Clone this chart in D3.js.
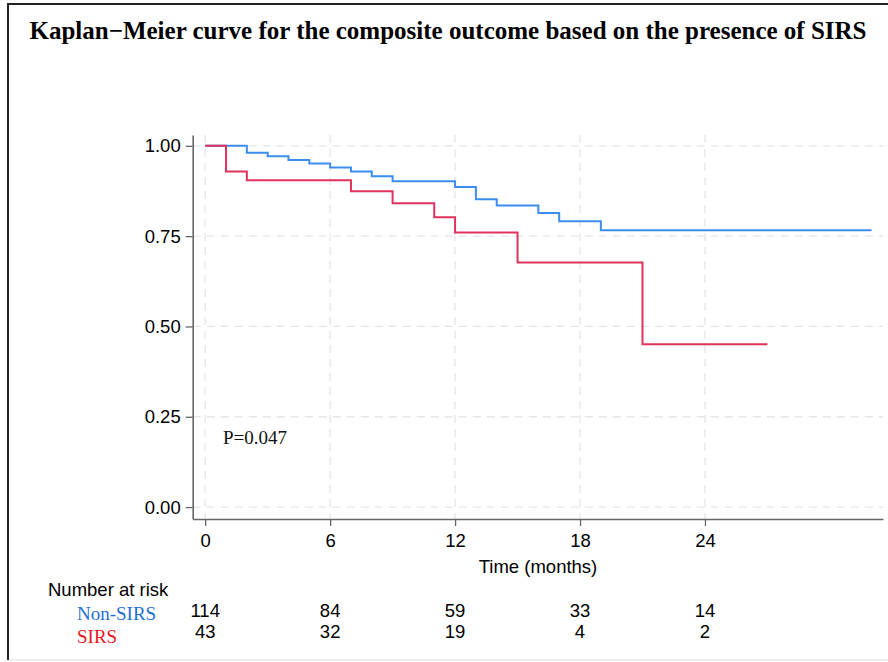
<!DOCTYPE html>
<html>
  <head>
    <meta charset="utf-8" />
    <style>
      body { margin: 0; background: #fff; }
    </style>
  </head>
  <body>

<svg id="graph"></svg>

<script src="https://d3js.org/d3.v7.min.js"></script>
<script>
  const WIDTH = 888;
  const HEIGHT = 662;

  // survival estimates (step points)
  const nonSirsTimes = [0, 2, 3, 4, 5, 6, 7, 8, 9, 12, 13, 14, 16, 17, 19, 32];
  const nonSirsSurv = [1, 0.981, 0.971, 0.961, 0.951, 0.940, 0.929, 0.916, 0.902, 0.886, 0.852, 0.835, 0.814, 0.791, 0.766, 0.766];
  const sirsTimes = [0, 1, 2, 7, 9, 11, 12, 15, 21, 27];
  const sirsSurv = [1, 0.929, 0.905, 0.874, 0.841, 0.802, 0.760, 0.677, 0.451, 0.451];

  const xTicks = [0, 6, 12, 18, 24];
  const yTicks = [0, 0.25, 0.5, 0.75, 1];
  const riskNonSirs = [114, 84, 59, 33, 14];
  const riskSirs = [43, 32, 19, 4, 2];

  const SANS = 'Liberation Sans, Arial, Helvetica, sans-serif';
  const SERIF = 'Liberation Serif, Times New Roman, serif';
  const BLUE = '#3b8def';
  const RED = '#e0325c';

  const svg = d3.select('#graph')
    .attr('width', WIDTH)
    .attr('height', HEIGHT);

  // frame
  svg.append('line').attr('x1', 8).attr('x2', WIDTH).attr('y1', 4).attr('y2', 4)
    .attr('stroke', '#222').attr('stroke-width', 2);
  svg.append('line').attr('x1', 8).attr('x2', 8).attr('y1', 3).attr('y2', 660)
    .attr('stroke', '#222').attr('stroke-width', 2);
  svg.append('line').attr('x1', 9).attr('x2', WIDTH).attr('y1', 660).attr('y2', 660)
    .attr('stroke', '#ddd').attr('stroke-width', 1);

  svg.append('text')
    .attr('x', 448).attr('y', 39)
    .attr('text-anchor', 'middle')
    .style('font-family', SERIF).style('font-weight', 'bold').style('font-size', '25px')
    .text('Kaplan\u2212Meier curve for the composite outcome based on the presence of SIRS');

  const x = d3.scaleLinear().domain([-0.6, 32.55]).range([192.7, 883]);
  const y = d3.scaleLinear().domain([-0.033, 1.03]).range([519, 135]);

  // dashed grid
  const grid = svg.append('g')
    .attr('stroke', '#e6e6e6').attr('stroke-width', 1.3).attr('stroke-dasharray', '8,6');
  grid.selectAll('.vg').data(xTicks).enter().append('line')
    .attr('x1', d => x(d)).attr('x2', d => x(d))
    .attr('y1', y.range()[1]).attr('y2', y.range()[0]);
  grid.selectAll('.hg').data(yTicks).enter().append('line')
    .attr('x1', x.range()[0]).attr('x2', x.range()[1])
    .attr('y1', d => y(d)).attr('y2', d => y(d));

  // axes
  const yAxis = svg.append('g')
    .attr('transform', 'translate(' + x.range()[0] + ',0)')
    .call(d3.axisLeft(y).tickValues(yTicks).tickFormat(d3.format('.2f')).tickSize(7).tickSizeOuter(0).tickPadding(5));
  const xAxis = svg.append('g')
    .attr('transform', 'translate(0,' + y.range()[0] + ')')
    .call(d3.axisBottom(x).tickValues(xTicks).tickSize(7).tickSizeOuter(0).tickPadding(8));
  [xAxis, yAxis].forEach(a => {
    a.select('.domain').attr('stroke', '#666').attr('stroke-width', 1.6);
    a.selectAll('.tick line').attr('stroke', '#666').attr('stroke-width', 1.3);
    a.selectAll('.tick text').attr('fill', '#000')
      .style('font-family', SANS).style('font-size', '18.5px');
  });

  svg.append('text')
    .attr('x', 538).attr('y', 573)
    .attr('text-anchor', 'middle')
    .style('font-family', SANS).style('font-size', '18.5px').attr('fill', '#000')
    .text('Time (months)');

  // KM step curves
  const step = d3.line()
    .x(d => x(d[0]))
    .y(d => y(d[1]))
    .curve(d3.curveStepAfter);

  svg.append('path')
    .datum(d3.zip(nonSirsTimes, nonSirsSurv))
    .attr('d', step)
    .attr('fill', 'none').attr('stroke', BLUE).attr('stroke-width', 2);
  svg.append('path')
    .datum(d3.zip(sirsTimes, sirsSurv))
    .attr('d', step)
    .attr('fill', 'none').attr('stroke', RED).attr('stroke-width', 2);

  svg.append('text')
    .attr('x', 223).attr('y', 444)
    .style('font-family', SERIF).style('font-size', '19px').attr('fill', '#111')
    .text('P=0.047');

  // number at risk table
  svg.append('text')
    .attr('x', 48).attr('y', 596)
    .style('font-family', SANS).style('font-size', '18.5px').attr('fill', '#000')
    .text('Number at risk');
  svg.append('text')
    .attr('x', 77).attr('y', 620)
    .style('font-family', SERIF).style('font-size', '19px').attr('fill', '#1f6fd4')
    .text('Non-SIRS');
  svg.append('text')
    .attr('x', 77).attr('y', 643)
    .style('font-family', SERIF).style('font-size', '19px').attr('fill', '#e8161c')
    .text('SIRS');

  svg.selectAll('.r1').data(riskNonSirs).enter().append('text')
    .attr('x', (d, i) => x(xTicks[i])).attr('y', 617)
    .attr('text-anchor', 'middle')
    .style('font-family', SANS).style('font-size', '18.5px').attr('fill', '#000')
    .text(d => d);
  svg.selectAll('.r2').data(riskSirs).enter().append('text')
    .attr('x', (d, i) => x(xTicks[i])).attr('y', 638)
    .attr('text-anchor', 'middle')
    .style('font-family', SANS).style('font-size', '18.5px').attr('fill', '#000')
    .text(d => d);

</script>
  </body>
</html>
